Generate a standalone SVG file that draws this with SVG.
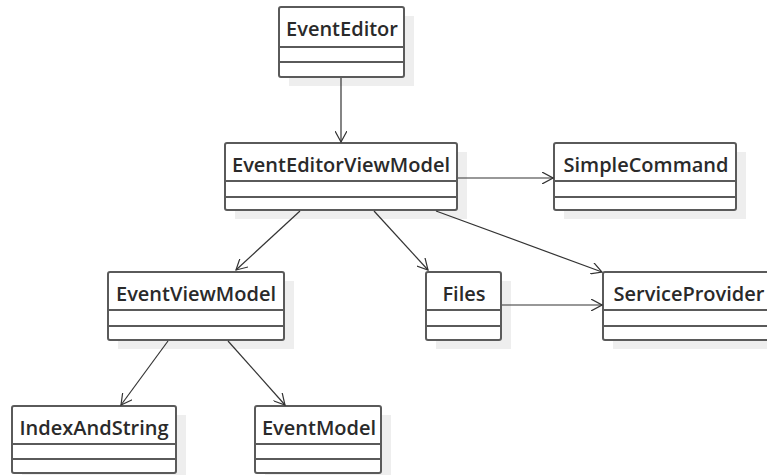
<svg xmlns="http://www.w3.org/2000/svg" width="767" height="475" viewBox="0 0 767 475">
<defs>
<style>
.shadow{fill:#eeeeee;stroke:none}
.box{fill:#ffffff;stroke:#5a5a5a;stroke-width:2}
.sep{stroke:#5a5a5a;stroke-width:2}
.lbl{font-family:"Open Sans","Liberation Sans",Arial,sans-serif;font-size:20px;font-weight:600;fill:#2a2a2a;text-anchor:middle}
.edge{stroke:#333333;stroke-width:1.2;fill:none;marker-end:url(#arr)}
</style>
<marker id="arr" viewBox="0 0 12 12" refX="11" refY="6" markerWidth="12" markerHeight="12" markerUnits="userSpaceOnUse" orient="auto">
<path d="M0,0 L11,6 L0,12" fill="none" stroke="#333333" stroke-width="1.2"/>
</marker>
</defs>
<rect width="767" height="475" fill="#ffffff"/>
<g id="EventEditor">
<rect class="shadow" x="289" y="16" width="125" height="70"/>
<rect class="box" x="279" y="7" width="125" height="70" rx="2"/>
<line class="sep" x1="279" y1="47" x2="404" y2="47"/>
<line class="sep" x1="279" y1="62" x2="404" y2="62"/>
<text class="lbl" x="342" y="36">EventEditor</text>
</g>
<g id="EventEditorViewModel">
<rect class="shadow" x="235" y="152" width="232" height="67"/>
<rect class="box" x="225" y="143" width="232" height="67" rx="2"/>
<line class="sep" x1="225" y1="181" x2="457" y2="181"/>
<line class="sep" x1="225" y1="197" x2="457" y2="197"/>
<text class="lbl" x="341" y="172">EventEditorViewModel</text>
</g>
<g id="SimpleCommand">
<rect class="shadow" x="564" y="152" width="182" height="67"/>
<rect class="box" x="554" y="143" width="182" height="67" rx="2"/>
<line class="sep" x1="554" y1="181" x2="736" y2="181"/>
<line class="sep" x1="554" y1="197" x2="736" y2="197"/>
<text class="lbl" x="646" y="172">SimpleCommand</text>
</g>
<g id="EventViewModel">
<rect class="shadow" x="118" y="281" width="176" height="68"/>
<rect class="box" x="108" y="272" width="176" height="68" rx="2"/>
<line class="sep" x1="108" y1="310" x2="284" y2="310"/>
<line class="sep" x1="108" y1="326" x2="284" y2="326"/>
<text class="lbl" x="196" y="301">EventViewModel</text>
</g>
<g id="Files">
<rect class="shadow" x="436" y="281" width="75" height="68"/>
<rect class="box" x="426" y="272" width="75" height="68" rx="2"/>
<line class="sep" x1="426" y1="310" x2="501" y2="310"/>
<line class="sep" x1="426" y1="326" x2="501" y2="326"/>
<text class="lbl" x="464" y="301">Files</text>
</g>
<g id="ServiceProvider">
<rect class="shadow" x="613" y="281" width="172" height="68"/>
<rect class="box" x="603" y="272" width="172" height="68" rx="2"/>
<line class="sep" x1="603" y1="310" x2="775" y2="310"/>
<line class="sep" x1="603" y1="326" x2="775" y2="326"/>
<text class="lbl" x="689" y="301">ServiceProvider</text>
</g>
<g id="IndexAndString">
<rect class="shadow" x="22" y="415" width="164" height="67"/>
<rect class="box" x="12" y="406" width="164" height="67" rx="2"/>
<line class="sep" x1="12" y1="444" x2="176" y2="444"/>
<line class="sep" x1="12" y1="459" x2="176" y2="459"/>
<text class="lbl" x="94" y="435">IndexAndString</text>
</g>
<g id="EventModel">
<rect class="shadow" x="265" y="415" width="126" height="67"/>
<rect class="box" x="255" y="406" width="126" height="67" rx="2"/>
<line class="sep" x1="255" y1="444" x2="381" y2="444"/>
<line class="sep" x1="255" y1="459" x2="381" y2="459"/>
<text class="lbl" x="319" y="435">EventModel</text>
</g>
<g id="connectors">
<line class="edge" x1="341" y1="78" x2="341" y2="142"/>
<line class="edge" x1="458" y1="178" x2="553" y2="178"/>
<line class="edge" x1="300" y1="211" x2="236" y2="270"/>
<line class="edge" x1="374" y1="211" x2="428" y2="270"/>
<line class="edge" x1="436" y1="211" x2="602" y2="272"/>
<line class="edge" x1="502" y1="305" x2="602" y2="305"/>
<line class="edge" x1="168" y1="341" x2="121" y2="405"/>
<line class="edge" x1="228" y1="341" x2="285" y2="405"/>
</g>
</svg>
